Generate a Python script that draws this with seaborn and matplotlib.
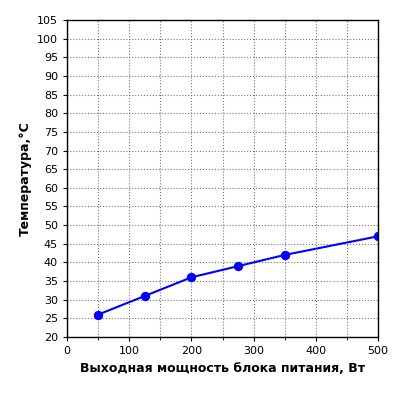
import matplotlib
matplotlib.use("Agg")
import matplotlib.pyplot as plt
import seaborn as sns
import numpy as np

power = [50, 125, 200, 275, 350, 500]
temp = [26, 31, 36, 39, 42, 47]
xticks = [0, 100, 200, 300, 400, 500]
yticks = list(range(20, 110, 5))

sns.set_style("white")
plt.rcParams['font.family'] = ['DejaVu Sans']
plt.rcParams['text.color'] = 'black'
plt.rcParams['axes.labelcolor'] = 'black'
plt.rcParams['xtick.color'] = 'black'
plt.rcParams['ytick.color'] = 'black'
fig = plt.figure(figsize=(4, 4), dpi=100)
ax = fig.add_axes([67/400, 63/400, 311/400, 317/400])
sns.lineplot(x=power, y=temp, ax=ax, color="#0000ff", marker="o", markersize=6,
             markeredgecolor="#0000ff", linewidth=1.5)
ax.set_xlim(0, 500)
ax.set_ylim(20, 105)
ax.set_xticks(xticks)
ax.set_xticks(np.arange(50, 500, 50), minor=True)
ax.set_yticks(yticks)
ax.grid(True, which="both", linestyle=":", color="#777777", linewidth=0.8)
ax.tick_params(labelsize=8, length=3, direction="out", left=True, bottom=True, colors="black")
ax.tick_params(which="minor", length=2, bottom=True)
for s in ax.spines.values():
    s.set_color("black"); s.set_linewidth(1)
ax.set_xlabel("Выходная мощность блока питания, Вт", fontsize=9, fontweight="bold", color="black")
ax.set_ylabel("Температура,°C", fontsize=9, fontweight="bold", color="black")
fig.savefig("out.png", dpi=100)
